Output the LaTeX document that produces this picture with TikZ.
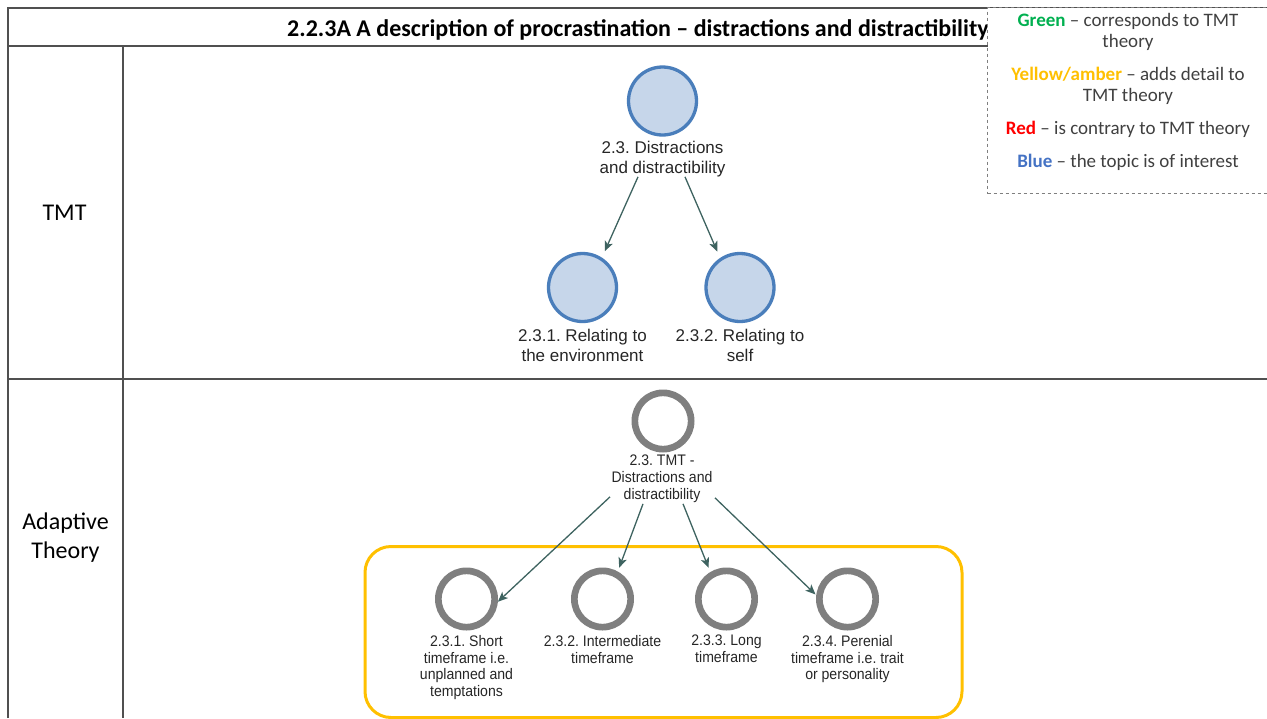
\documentclass[tikz,border=0pt]{standalone}
\usepackage{fontspec}
\setmainfont{Carlito}
\newfontfamily\mapfont{Liberation Sans}
\newfontfamily\mapnarrow[FakeStretch=0.92]{Liberation Sans}
\usetikzlibrary{arrows.meta}
\definecolor{gridline}{HTML}{505050}
\definecolor{tmtfill}{HTML}{C6D6EA}
\definecolor{tmtedge}{HTML}{4A7EBB}
\definecolor{ringgray}{HTML}{7F7F7F}
\definecolor{linkcol}{HTML}{3E6360}
\definecolor{amber}{HTML}{FFC000}
\definecolor{lgreen}{HTML}{00B050}
\definecolor{lred}{HTML}{FF0000}
\definecolor{lblue}{HTML}{4472C4}
\definecolor{maptext}{HTML}{262626}
\definecolor{legtext}{HTML}{404040}
\frenchspacing
\begin{document}
\begin{tikzpicture}[x=1pt,y=-1pt,
  grid/.style={draw=gridline,line width=1.6pt},
  bluenode/.style={circle,draw=tmtedge,fill=tmtfill,line width=3.3pt,minimum size=68pt,inner sep=0pt},
  graynode/.style={circle,draw=ringgray,fill=white,line width=6.7pt,minimum size=56.3pt,inner sep=0pt},
  bluelbl/.style={anchor=north,align=center,inner sep=0pt,text=maptext,font=\mapfont\fontsize{17}{20}\selectfont},
  graylbl/.style={anchor=north,align=center,inner sep=0pt,text=maptext,font=\mapnarrow\fontsize{15.3}{16.8}\selectfont},
  link/.style={draw=linkcol,line width=1.3pt,-{Stealth[length=10pt,width=8.5pt,inset=2.5pt]}},
  legendbox/.style={draw=ringgray,dashed,line width=1pt,fill=white,anchor=north west,inner sep=0pt},
  rowhead/.style={align=center,inner sep=0pt,text=black,font=\fontsize{24}{29}\selectfont},
]
\useasboundingbox (0,0) rectangle (1267,718);
\clip (0,0) rectangle (1267,718);

% table frame
\draw[grid] (8,718) -- (8,8) -- (1270,8);
\draw[grid] (8,46) -- (1270,46);
\draw[grid] (123,46) -- (123,718);
\draw[grid] (8,379) -- (1270,379);

% title and row headings
\node[anchor=base west,inner sep=0pt,font=\bfseries\fontsize{24}{26}\selectfont] (title) at (287,36)
  {2.2.3A A description of procrastination – distractions and distractibility};
\node[rowhead] (rowtmt) at (64.5,213) {TMT};
\node[rowhead] (rowadapt) at (65.5,537.5) {Adaptive\\Theory};

% colour key
\node[legendbox,minimum width=283pt,minimum height=186pt] (legend) at (987,7) {};
\node[anchor=north,align=center,inner sep=0pt,text=legtext,font=\fontsize{19}{21}\selectfont] (legendtext) at (1128,13)
  {{\bfseries\color{lgreen}Green} – corresponds to TMT\\theory\\[12pt]
   {\bfseries\color{amber}Yellow/amber} – adds detail to\\TMT theory\\[12pt]
   {\bfseries\color{lred}Red} – is contrary to TMT theory\\[12pt]
   {\bfseries\color{lblue}Blue} – the topic is of interest};

% TMT map
\node[bluenode] (t0) at (662.5,101) {};
\node[bluelbl] (t0l) at (662.5,140.6) {2.3. Distractions\\and distractibility};
\node[bluenode] (t1) at (582.5,287.5) {};
\node[bluenode] (t2) at (740,287.5) {};
\node[bluelbl] (t1l) at (582.5,329) {2.3.1. Relating to\\the environment};
\node[bluelbl] (t2l) at (740,329) {2.3.2. Relating to\\self};
\draw[link,shorten >=7pt] ([xshift=-24.5pt]t0l.south) -- (t1.57);
\draw[link,shorten >=7pt] ([xshift=22.5pt]t0l.south) -- (t2.124);

% adaptive theory map
\node[draw=amber,line width=3pt,rounded corners=26pt,minimum width=597pt,minimum height=171pt,anchor=north west,inner sep=0pt] (band) at (363.5,545) {};
\node[graynode] (a0) at (663,421) {};
\node[graylbl] (a0l) at (662,455) {2.3. TMT -\\Distractions and\\distractibility};
\node[graynode] (a1) at (466.5,599) {};
\node[graynode] (a2) at (602.5,599) {};
\node[graynode] (a3) at (726.5,599) {};
\node[graynode] (a4) at (847.5,599) {};
\node[graylbl] (a1l) at (466.5,635) {2.3.1. Short\\timeframe i.e.\\unplanned and\\temptations};
\node[graylbl] (a2l) at (602.5,635) {2.3.2. Intermediate\\timeframe};
\node[graylbl] (a3l) at (726.5,635) {2.3.3. Long\\timeframe};
\node[graylbl] (a4l) at (847.5,635) {2.3.4. Perenial\\timeframe i.e. trait\\or personality};
\draw[link] ([xshift=-52pt,yshift=6pt]a0l.south) -- (a1.-5);
\draw[link,shorten >=4pt] ([xshift=-19pt,yshift=-1pt]a0l.south) -- (a2.61);
\draw[link,shorten >=4.5pt] ([xshift=21pt,yshift=-1pt]a0l.south) -- (a3.121);
\draw[link,shorten >=1pt] ([xshift=53pt,yshift=5pt]a0l.south) -- (a4.173);
\end{tikzpicture}
\end{document}
